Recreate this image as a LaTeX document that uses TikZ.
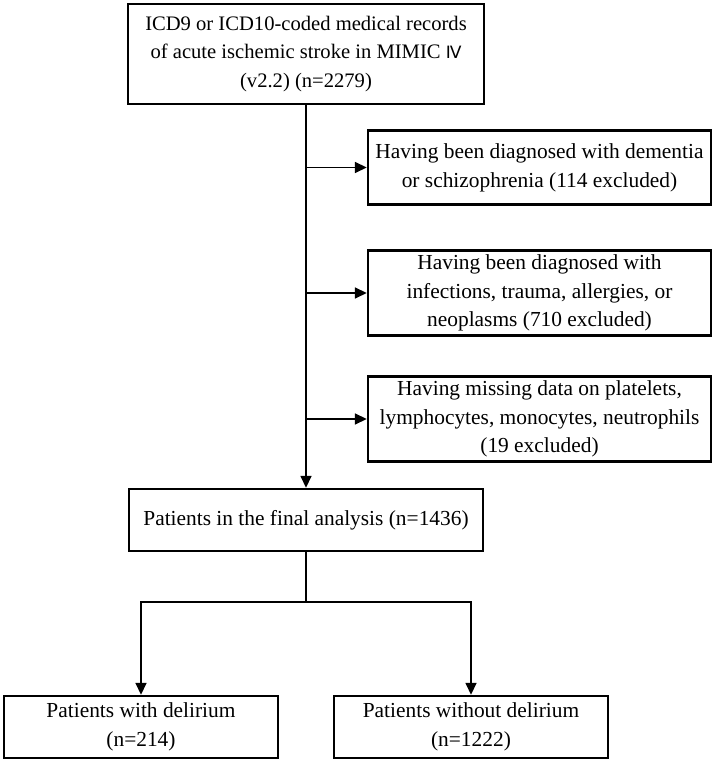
\documentclass[tikz,border=0pt]{standalone}
\usepackage{fontspec}
\setmainfont{Liberation Serif}
\newfontfamily\romanfont{DejaVu Sans}
\usetikzlibrary{arrows.meta}
\tikzstyle{records} = [rectangle, draw=black, line width=1.2pt, align=center, inner sep=2pt, font=\fontsize{10.7}{14.4}\selectfont]
\tikzstyle{source} = [records, minimum width=178pt, minimum height=50pt, font=\fontsize{10.3}{14.4}\selectfont]
\tikzstyle{exclude} = [records, minimum width=171.5pt, minimum height=37pt]
\tikzstyle{process} = [records, minimum width=177pt, minimum height=31pt]
\tikzstyle{outcome} = [records, minimum width=137pt, minimum height=31pt]
\tikzstyle{line} = [line width=0.8pt]
\tikzstyle{arrow} = [line, -{Triangle[length=6pt,width=5.5pt]}]

\begin{document}
\begin{tikzpicture}[node distance=60pt]
\useasboundingbox (0,0) rectangle (357.5pt,-381.5pt);
\node (mimic) [source] at (153pt,-27pt) {ICD9 or ICD10-coded medical records\\of acute ischemic stroke in MIMIC {\romanfont\fontsize{8.5}{8}\selectfont Ⅳ}\\(v2.2) (n=2279)};
\node (dementia) [exclude, right of = mimic, xshift=56.75pt, yshift=-56.75pt] {Having been diagnosed with dementia\\or schizophrenia (114 excluded)};
\node (infection) [exclude, below of = dementia, yshift=-2.75pt] {Having been diagnosed with\\infections, trauma, allergies, or\\neoplasms (710 excluded)};
\node (missing) [exclude, below of = infection, yshift=-3pt] {Having missing data on platelets,\\lymphocytes, monocytes, neutrophils\\(19 excluded)};
\node (final) [process, below of = mimic, yshift=-173pt] {Patients in the final analysis (n=1436)};
\node (delirium) [outcome, below of = final, xshift=-82.5pt, yshift=-43.5pt] {Patients with delirium\\(n=214)};
\node (nodelirium) [outcome, right of = delirium, xshift=105pt] {Patients without delirium\\(n=1222)};
\coordinate (b1) at (mimic.south |- dementia.west);
\coordinate (b2) at (mimic.south |- infection.west);
\coordinate (b3) at (mimic.south |- missing.west);
\coordinate (split) at ([yshift=-25pt]final.south);
\draw [arrow] (mimic) -- (final);
\draw [arrow] (b1) -- (dementia);
\draw [arrow] (b2) -- (infection);
\draw [arrow] (b3) -- (missing);
\draw [line] (final) -- (split);
\draw [arrow] (split) -| (delirium);
\draw [arrow] (split) -| (nodelirium);
\end{tikzpicture}
\end{document}
